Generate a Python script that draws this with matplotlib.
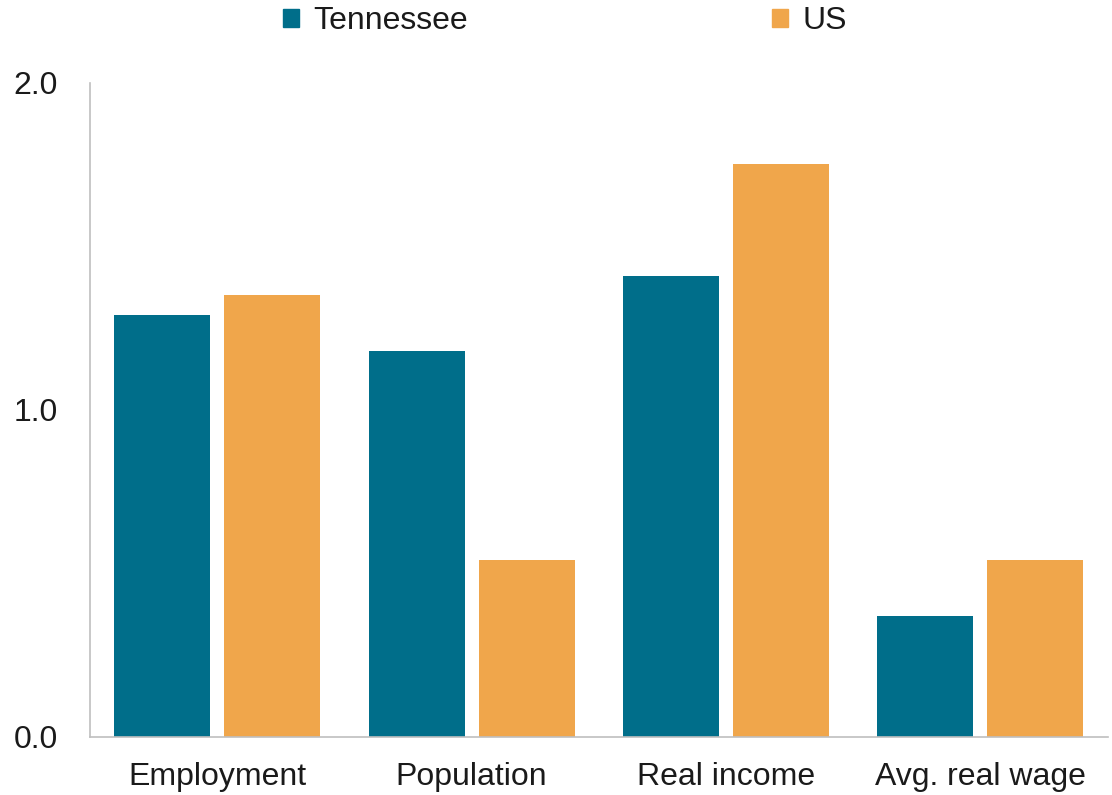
import numpy as np
import matplotlib.pyplot as plt
from matplotlib.patches import Patch

plt.rcParams['font.family'] = ['Liberation Sans', 'DejaVu Sans']

categories = ['Employment', 'Population', 'Real income', 'Avg. real wage']
tennessee = [1.29, 1.18, 1.41, 0.37]
us = [1.35, 0.54, 1.75, 0.54]

teal = '#006E8A'
orange = '#F0A64B'

fig = plt.figure(figsize=(11.12, 7.95), dpi=100)
ax = fig.add_axes([0.081, 0.073, 0.915, 0.823])

x = np.arange(len(categories))
w = 0.377
off = 0.216
ax.bar(x - off, tennessee, width=w, color=teal)
ax.bar(x + off, us, width=w, color=orange)

ax.set_xlim(-0.5, 3.5)
ax.set_ylim(0, 2.0)
ax.set_yticks([0.0, 1.0, 2.0])
ax.set_yticklabels(['0.0', '1.0', '2.0'])
ax.set_xticks(x)
ax.set_xticklabels(categories)
ax.tick_params(axis='both', length=0, labelsize=23, colors='#1a1a1a')
ax.tick_params(axis='x', pad=18)
ax.tick_params(axis='y', pad=23)

for s in ['top', 'right']:
    ax.spines[s].set_visible(False)
for s in ['left', 'bottom']:
    ax.spines[s].set_color('#BFBFBF')
    ax.spines[s].set_linewidth(1.2)

handles = [Patch(color=teal, label='Tennessee'), Patch(color=orange, label='US')]
fig.legend(handles=handles, loc='center', bbox_to_anchor=(0.508, 0.973), ncol=2,
           frameon=False, fontsize=23, handlelength=0.5, handleheight=0.5,
           handletextpad=0.45, columnspacing=9.5, labelcolor='#1a1a1a')

fig.savefig('out.png', dpi=100)
